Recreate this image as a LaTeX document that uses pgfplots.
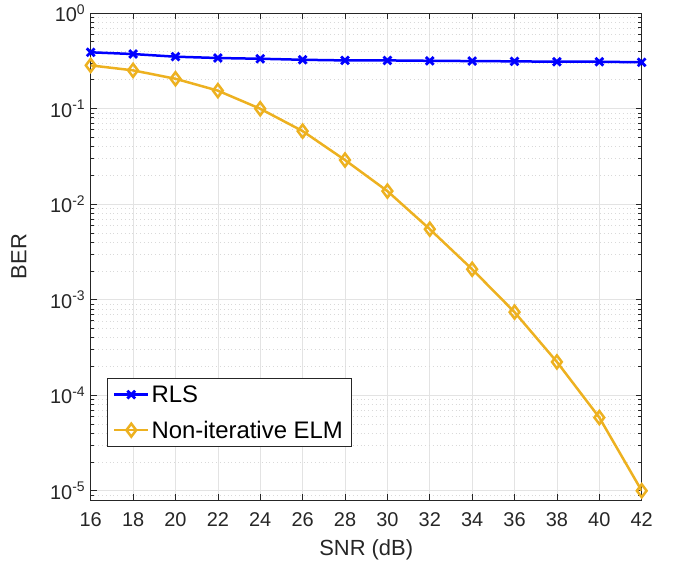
\documentclass[border=0pt]{standalone}
\usepackage{pgfplots}
\pgfplotsset{compat=1.18}
\usepackage{fontspec}
\setmainfont{Liberation Sans}
\definecolor{axgray}{RGB}{38,38,38}
\definecolor{elmcol}{RGB}{237,177,32}
\definecolor{rlscol}{RGB}{0,0,255}

\begin{document}
\begin{tikzpicture}
\begin{axis}[
    scale only axis,
    width=551bp, height=487bp,
    xmin=16, xmax=42,
    ymode=log, log basis y=10,
    ymin=8e-6, ymax=1,
    xtick={16,18,...,42},
    ytick={1e-5,1e-4,1e-3,1e-2,1e-1,1},
    minor ytick={9e-6,
        2e-5,3e-5,4e-5,5e-5,6e-5,7e-5,8e-5,9e-5,
        2e-4,3e-4,4e-4,5e-4,6e-4,7e-4,8e-4,9e-4,
        2e-3,3e-3,4e-3,5e-3,6e-3,7e-3,8e-3,9e-3,
        2e-2,3e-2,4e-2,5e-2,6e-2,7e-2,8e-2,9e-2,
        0.2,0.3,0.4,0.5,0.6,0.7,0.8,0.9},
    yticklabel={10\textsuperscript{\pgfmathparse{int(round(\tick))}\pgfmathresult}},
    /pgf/number format/assume math mode=true,
    tick label style={font=\fontsize{20}{24}\selectfont, text=axgray},
    xticklabel style={yshift=-9bp},
    yticklabel style={xshift=-2bp},
    label style={font=\fontsize{22}{26}\selectfont, text=axgray},
    xlabel={SNR (dB)},
    ylabel={BER},
    axis line style={axgray, line width=0.7bp},
    tick style={axgray, line width=0.7bp},
    major tick length=6bp,
    minor tick length=3.5bp,
    tick align=inside,
    xtick pos=both, ytick pos=both,
    grid=both,
    major grid style={gray!22, line width=0.6bp},
    minor grid style={gray!30, line width=0.6bp, dash pattern=on 0.8bp off 3bp},
    xlabel style={yshift=-6bp},
    ylabel style={yshift=17bp},
    legend cell align=left,
    legend style={
        at={(0.029,0.109)}, anchor=south west,
        font=\fontsize{24}{28}\selectfont,
        draw=axgray, line width=0.7bp, fill=white,
        inner xsep=6bp, inner ysep=5bp,
        row sep=13bp,
    },
    legend image code/.code={
        \draw[mark repeat=2, mark phase=2]
        plot coordinates {(0bp,0bp) (17bp,0bp) (34bp,0bp)};
    },
]
\addplot[rlscol, line width=2.5bp, mark=x, mark size=5.5bp,
    mark options={line width=2.8bp}]
coordinates {
    (16,0.388) (18,0.372) (20,0.349) (22,0.338) (24,0.332) (26,0.324)
    (28,0.319) (30,0.319) (32,0.316) (34,0.314) (36,0.312) (38,0.309)
    (40,0.309) (42,0.305)
};
\addlegendentry{RLS}
\addplot[elmcol, line width=2.5bp, mark=diamond, mark size=6.5bp,
    mark options={line width=2.5bp, fill=none}]
coordinates {
    (16,0.283) (18,0.251) (20,0.205) (22,0.154) (24,0.0995) (26,0.0581)
    (28,0.0289) (30,0.01368) (32,0.00547) (34,0.00208) (36,7.4e-4)
    (38,2.23e-4) (40,5.84e-5) (42,1.0e-5)
};
\addlegendentry{Non-iterative ELM}
\end{axis}
\path (current axis.south west) ++(-90.7bp,-69bp) rectangle ++(677bp,569bp);
\end{tikzpicture}
\end{document}
